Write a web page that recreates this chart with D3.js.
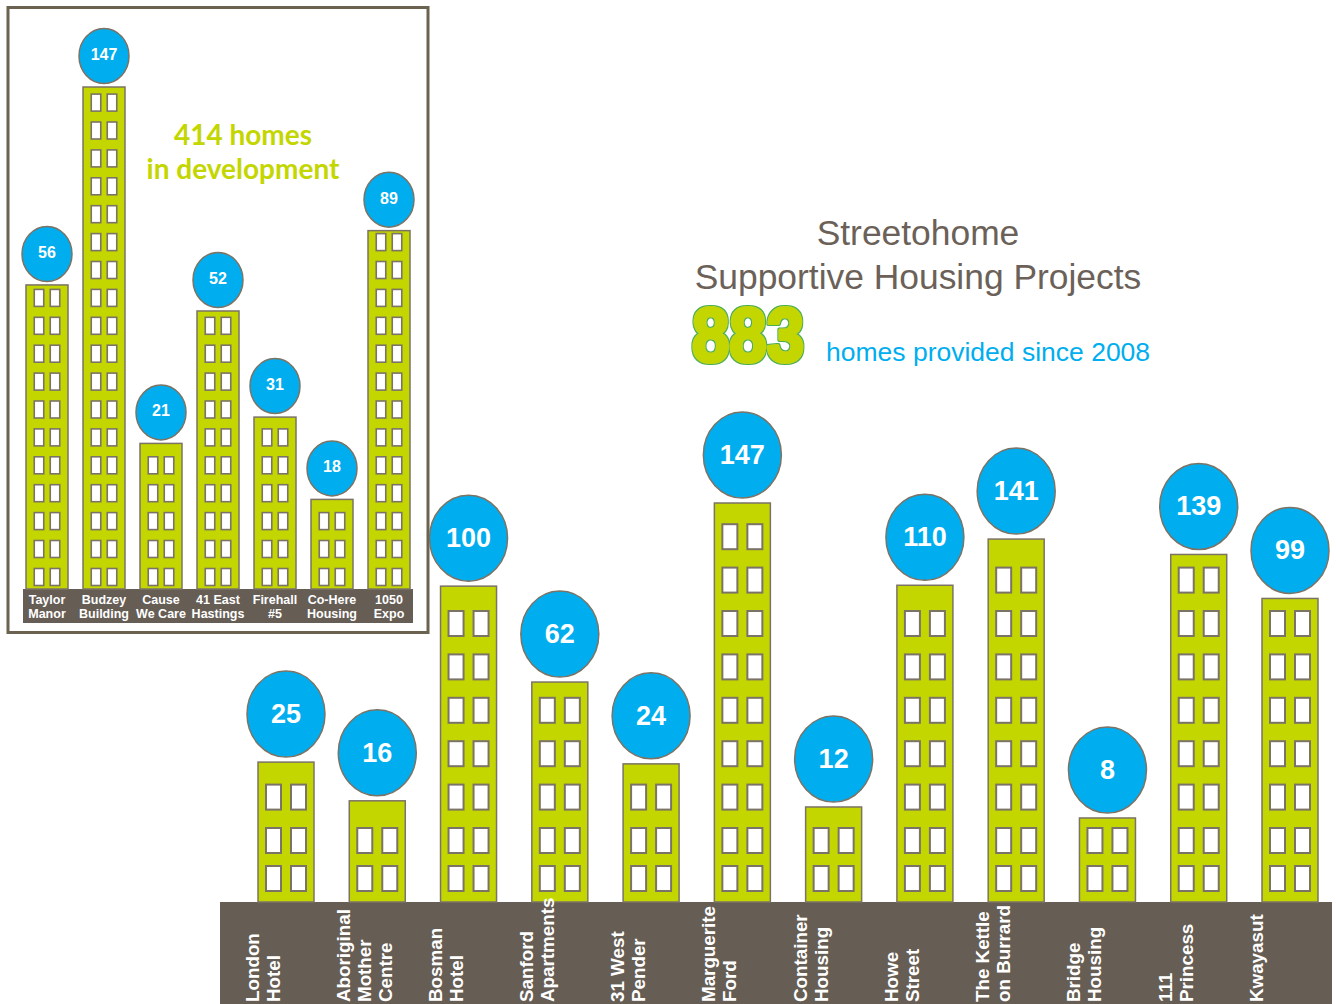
<!DOCTYPE html>
<html>
<head>
<meta charset="utf-8">
<script src="https://d3js.org/d3.v7.min.js"></script>
<style>
  html, body { margin: 0; padding: 0; background: #fff; }
  svg { display: block; }
  text { font-family: "Liberation Sans", Arial, sans-serif; }
</style>
</head>
<body>
<svg id="chart" width="1336" height="1004"></svg>
<script>
// completed projects
const mainNames = [
  ["London", "Hotel"], ["Aboriginal", "Mother", "Centre"], ["Bosman", "Hotel"],
  ["Sanford", "Apartments"], ["31 West", "Pender"], ["Marguerite", "Ford"],
  ["Container", "Housing"], ["Howe", "Street"], ["The Kettle", "on Burrard"],
  ["Bridge", "Housing"], ["111", "Princess"], ["Kwayasut"]
];
const mainHomes = [25, 16, 100, 62, 24, 147, 12, 110, 141, 8, 139, 99];
// building height in storeys (not proportional to homes)
const mainStoreys = [3.18, 2.3, 7.18, 5.0, 3.14, 9.07, 2.16, 7.2, 8.25, 1.91, 7.9, 6.9];

// projects in development
const devNames = [
  ["Taylor", "Manor"], ["Budzey", "Building"], ["Cause", "We Care"], ["41 East", "Hastings"],
  ["Firehall", "#5"], ["Co-Here", "Housing"], ["1050", "Expo"]
];
const devHomes = [56, 147, 21, 52, 31, 18, 89];
const devStoreys = [10.86, 17.93, 5.2, 9.93, 6.14, 3.2, 12.8];

const titleLines = ["Streetohome", "Supportive Housing Projects"];
const devTitleLines = ["414 homes", "in development"];
const totalHomes = "883";
const totalCaption = "homes provided since 2008";

const LIME = "#c4d600", BLUE = "#00aeef", BROWN = "#665d55", EDGE = "#7b7365";

const svg = d3.select("#chart");

// thin green rim round the big total
const rim = svg.append("defs").append("filter")
  .attr("id", "rim")
  .attr("x", "-10%").attr("y", "-10%").attr("width", "120%").attr("height", "120%");
rim.append("feMorphology").attr("in", "SourceAlpha").attr("operator", "dilate").attr("radius", 1).attr("result", "outer");
rim.append("feFlood").attr("flood-color", "#4caf50").attr("result", "green");
rim.append("feComposite").attr("in", "green").attr("in2", "outer").attr("operator", "in").attr("result", "edge");
const rimMerge = rim.append("feMerge");
rimMerge.append("feMergeNode").attr("in", "edge");
rimMerge.append("feMergeNode").attr("in", "SourceGraphic");

function drawPanel(cfg, names, homes, storeys) {
  const keys = names.map(d => d.join(" "));
  const x = d3.scalePoint().domain(keys).range(cfg.xRange);
  const y = d3.scaleLinear().domain([0, d3.max(storeys)]).range(cfg.yRange);

  const rows = keys.map((k, i) => ({ key: k, lines: names[i], homes: homes[i], storeys: storeys[i] }));

  const g = svg.append("g");

  // ground strip under the buildings
  g.append("rect")
    .attr("x", cfg.strip[0]).attr("y", cfg.yRange[0])
    .attr("width", cfg.strip[1] - cfg.strip[0]).attr("height", cfg.stripHeight)
    .attr("fill", BROWN);

  const towers = g.selectAll("g.tower")
    .data(rows)
    .enter().append("g")
    .attr("class", "tower")
    .attr("transform", d => `translate(${x(d.key)},0)`);

  towers.append("rect")
    .attr("x", -cfg.width / 2)
    .attr("y", d => y(d.storeys))
    .attr("width", cfg.width)
    .attr("height", d => y(0) - y(d.storeys))
    .attr("fill", LIME)
    .attr("stroke", EDGE)
    .attr("stroke-width", 1.5);

  // two windows per storey
  towers.selectAll("rect.window")
    .data(d => d3.range(Math.round(d.storeys)).flatMap(r => [{ r, side: -1 }, { r, side: 1 }]))
    .enter().append("rect")
    .attr("class", "window")
    .attr("x", d => d.side * cfg.winOffset - cfg.winW / 2)
    .attr("y", d => y(0) - cfg.winGap - cfg.winH - (d.r === 0 ? 0 : cfg.firstPitch + (d.r - 1) * cfg.pitch))
    .attr("width", cfg.winW)
    .attr("height", cfg.winH)
    .attr("fill", "#fff")
    .attr("stroke", EDGE)
    .attr("stroke-width", cfg.winStroke);

  towers.append("ellipse")
    .attr("cx", 0)
    .attr("cy", d => y(d.storeys) - cfg.bubbleGap)
    .attr("rx", cfg.rx)
    .attr("ry", cfg.ry)
    .attr("fill", BLUE)
    .attr("stroke", EDGE)
    .attr("stroke-width", 1.5);

  towers.append("text")
    .attr("y", d => y(d.storeys) - cfg.bubbleGap + cfg.numberDy)
    .attr("text-anchor", "middle")
    .attr("fill", "#fff")
    .attr("font-weight", "bold")
    .attr("font-size", cfg.numberSize)
    .text(d => d.homes);

  return { towers, y };
}

// inset frame
svg.append("rect")
  .attr("x", 8).attr("y", 7.5).attr("width", 420).attr("height", 625)
  .attr("fill", "#fff").attr("stroke", "#6b6350").attr("stroke-width", 3);

const dev = drawPanel({
  xRange: [47, 389], yRange: [589, 87], strip: [23, 413], stripHeight: 34,
  width: 42, winW: 9.5, winH: 17, winOffset: 8, winGap: 3.5, firstPitch: 28, pitch: 27.9, winStroke: 1.6,
  rx: 25, ry: 27.5, bubbleGap: 31, numberDy: 4, numberSize: 16
}, devNames, devHomes, devStoreys);

dev.towers.append("text")
  .attr("y", 604)
  .attr("text-anchor", "middle")
  .attr("fill", "#fff")
  .attr("font-weight", "bold")
  .attr("font-size", 12.5)
  .selectAll("tspan")
  .data(d => d.lines)
  .enter().append("tspan")
  .attr("x", 0)
  .attr("dy", (d, i) => i ? 14 : 0)
  .text(d => d);

const main = drawPanel({
  xRange: [286, 1290], yRange: [902, 503], strip: [220, 1332], stripHeight: 102,
  width: 56, winW: 15, winH: 25, winOffset: 12.5, winGap: 11, firstPitch: 38, pitch: 43.4, winStroke: 2,
  rx: 39, ry: 43, bubbleGap: 48, numberDy: 9, numberSize: 27
}, mainNames, mainHomes, mainStoreys);

// rotated names on the ground strip
main.towers.append("g")
  .attr("transform", "translate(-27,1002) rotate(-90)")
  .selectAll("text")
  .data(d => d.lines)
  .enter().append("text")
  .attr("y", (d, i) => i * 21)
  .attr("fill", "#fff")
  .attr("font-weight", "bold")
  .attr("font-size", 18.8)
  .text(d => d);

// headings
svg.append("g").selectAll("text")
  .data(titleLines)
  .enter().append("text")
  .attr("x", 918)
  .attr("y", (d, i) => 245 + i * 44)
  .attr("text-anchor", "middle")
  .attr("fill", "#6b6158")
  .attr("font-size", 35.4)
  .text(d => d);

svg.append("text")
  .attr("x", 692).attr("y", 361)
  .attr("fill", LIME)
  .attr("stroke", LIME)
  .attr("stroke-width", 4)
  .attr("stroke-linejoin", "round")
  .attr("font-weight", "bold")
  .attr("font-size", 76)
  .attr("textLength", 112)
  .attr("lengthAdjust", "spacingAndGlyphs")
  .attr("filter", "url(#rim)")
  .text(totalHomes);

svg.append("text")
  .attr("x", 826).attr("y", 361)
  .attr("fill", BLUE)
  .attr("font-size", 26.5)
  .text(totalCaption);

svg.append("g").selectAll("text")
  .data(devTitleLines)
  .enter().append("text")
  .attr("x", 243)
  .attr("y", (d, i) => 145 + i * 34)
  .attr("text-anchor", "middle")
  .attr("fill", LIME)
  .attr("font-weight", "bold")
  .attr("font-size", 28)
  .style("font-family", "Lato, sans-serif")
  .text(d => d);
</script>
</body>
</html>
